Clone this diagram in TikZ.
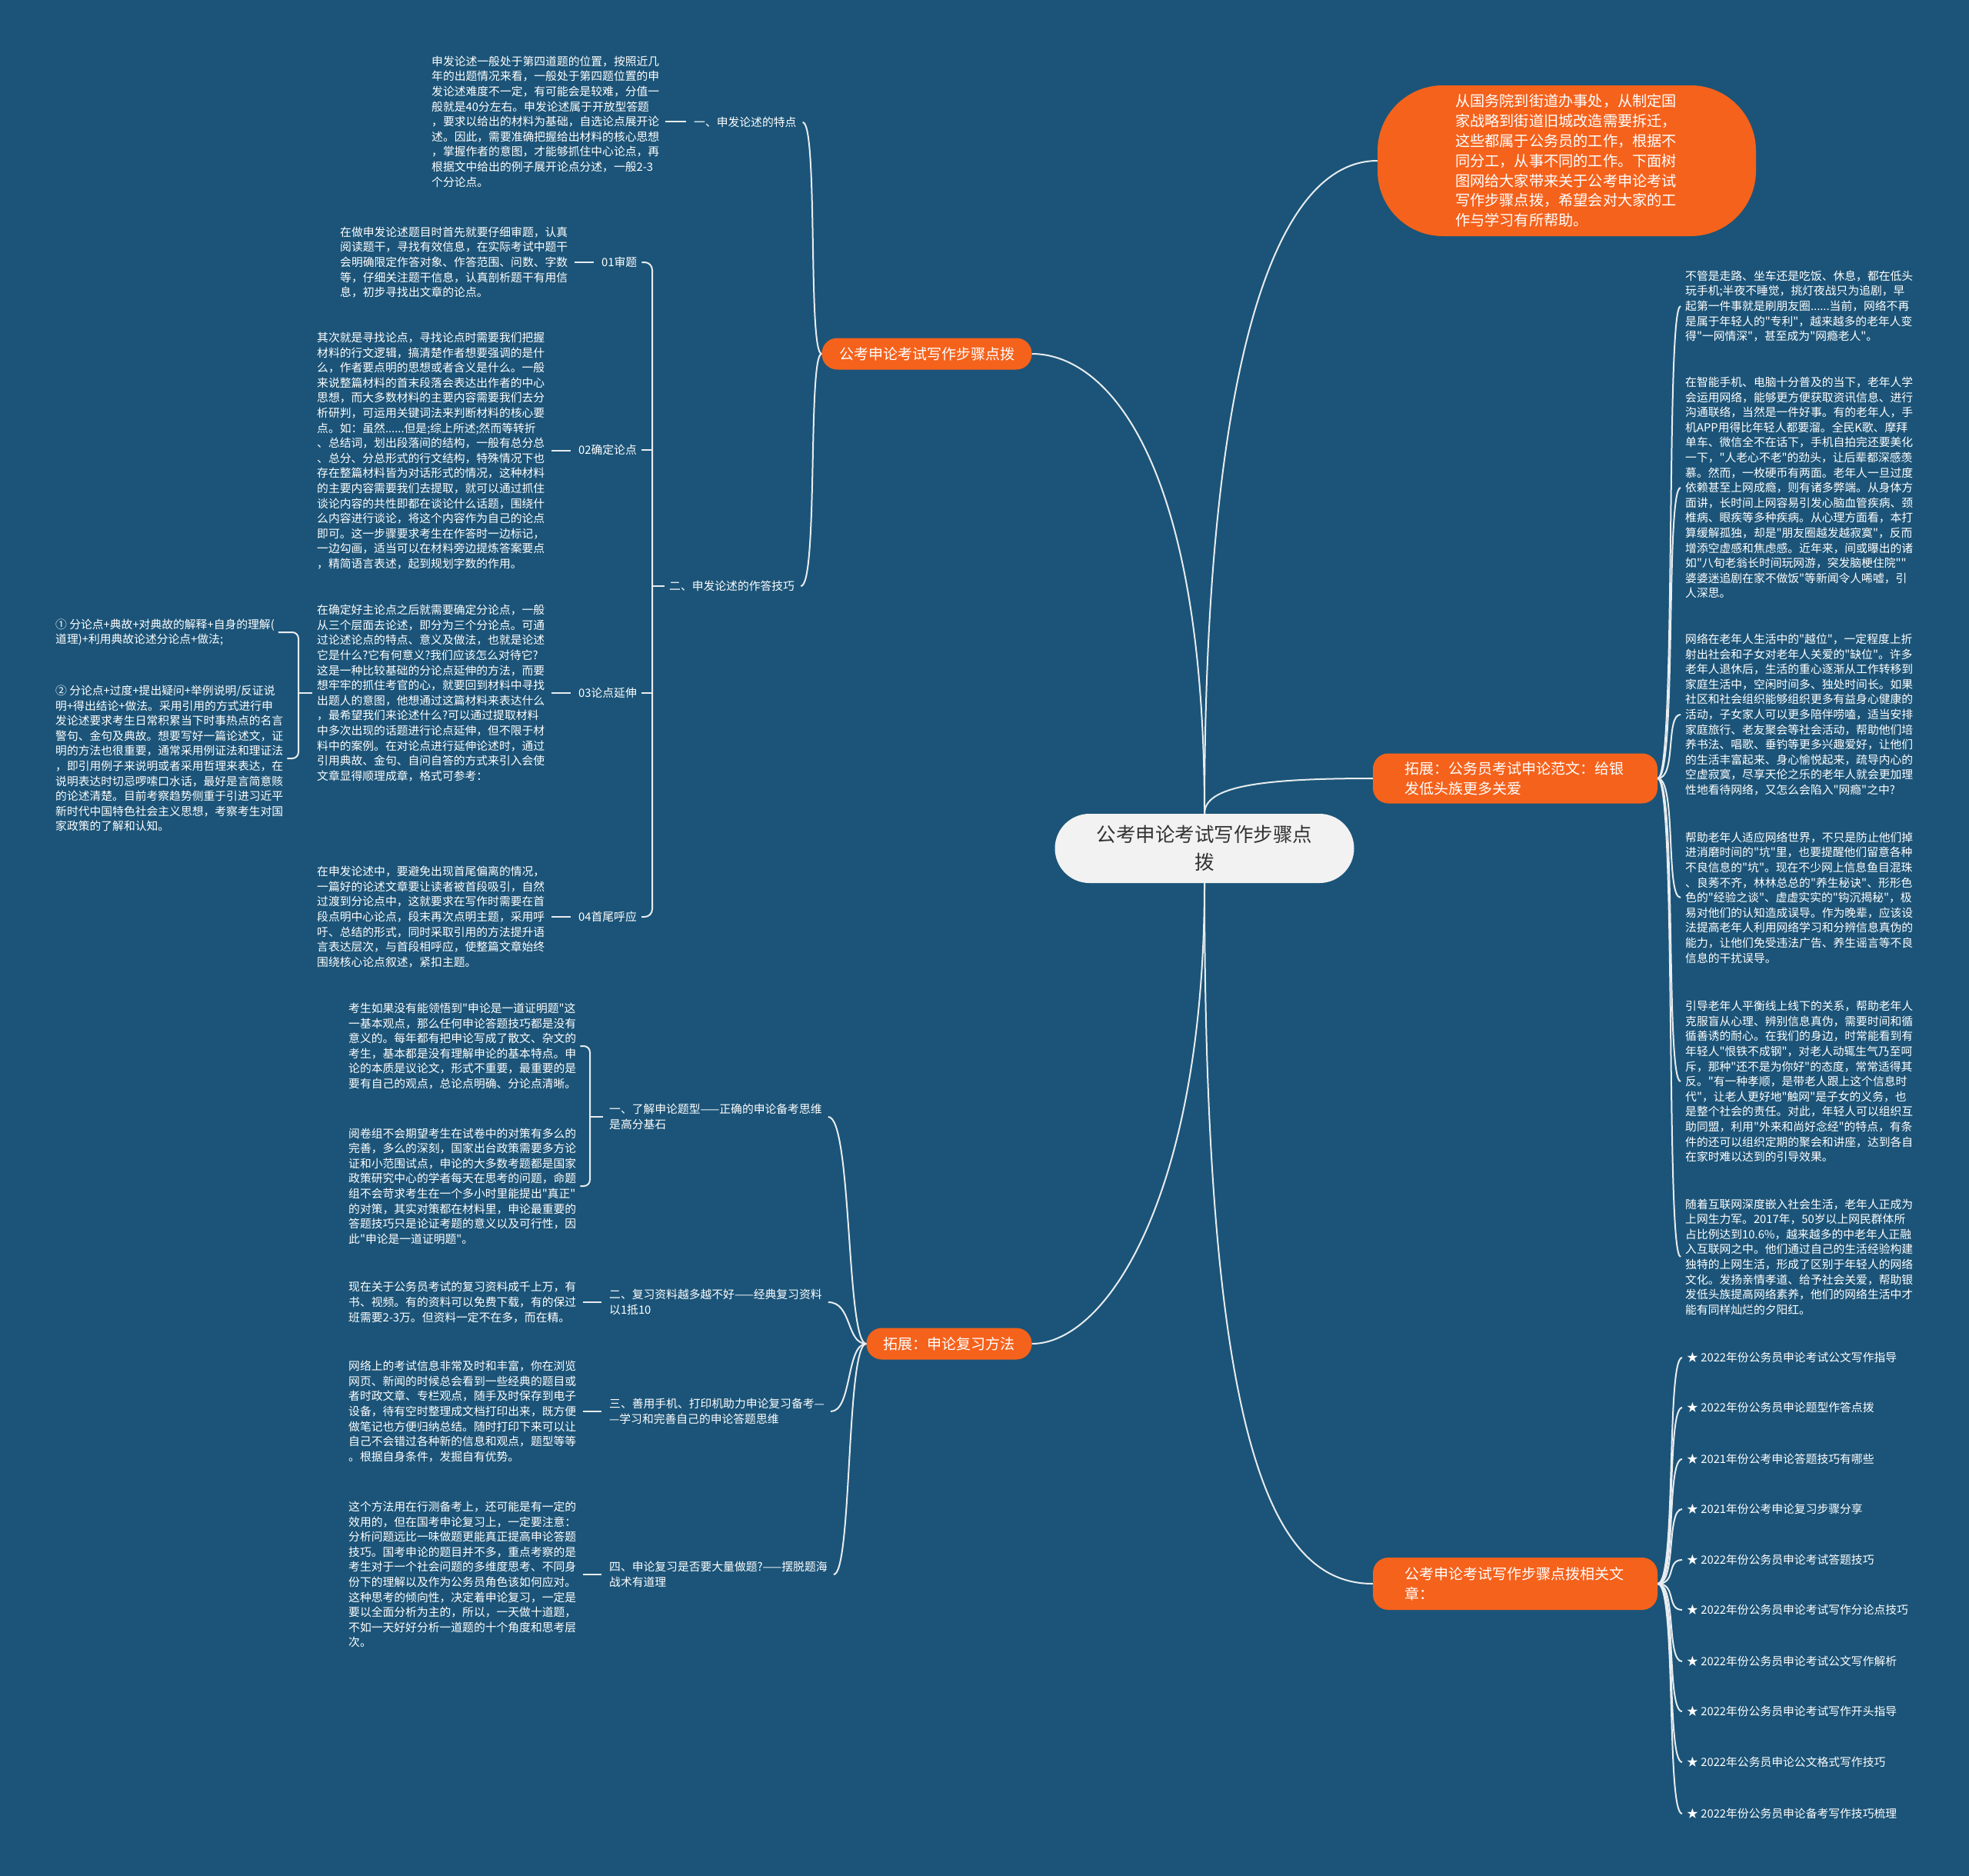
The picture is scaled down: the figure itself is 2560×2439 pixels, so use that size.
\documentclass[tikz,border=0pt]{standalone}
\usepackage{fontspec}
\setmainfont{Noto Sans CJK SC}[Ligatures=TeXOff]
\definecolor{bgc}{RGB}{27,84,120}
\definecolor{org}{RGB}{245,98,28}
\definecolor{cfill}{RGB}{242,242,242}
\definecolor{ctext}{RGB}{51,51,51}
\definecolor{linec}{RGB}{232,236,240}
\begin{document}
\begin{tikzpicture}[x=1pt,y=-1pt,
  txt/.style={font=\fontsize{14.8pt}{19.6pt}\selectfont, text=white, align=left, inner sep=0pt, anchor=west},
  conn/.style={draw=linec, line width=2pt},
  obox/.style={fill=org, text=white, font=\fontsize{19pt}{26pt}\selectfont, inner ysep=0pt}]
\fill[bgc] (0,0) rectangle (2560,2439);
\useasboundingbox (0,0) rectangle (2560,2439);

% ---------- main nodes ----------
\node[fill=cfill, text=ctext, rounded corners=45pt, minimum width=389pt, minimum height=90pt,
  align=center, font=\fontsize{25.5pt}{36pt}\selectfont] (c) at (1566,1103) {公考申论考试写作步骤点\\拨};
\node[obox, rounded corners=20pt, minimum width=273pt, minimum height=41pt, align=center] (n1) at (1205,460) {公考申论考试写作步骤点拨};
\node[obox, rounded corners=20pt, minimum width=215pt, minimum height=41pt, align=center] (n2) at (1234,1747) {拓展：申论复习方法};
\node[obox, rounded corners=85pt, text width=290pt, align=left, minimum width=492pt, minimum height=196pt,
  font=\fontsize{19.2pt}{25.8pt}\selectfont] (n3) at (2037,209)
  {从国务院到街道办事处，从制定国\\家战略到街道旧城改造需要拆迁，\\这些都属于公务员的工作，根据不\\同分工，从事不同的工作。下面树\\图网给大家带来关于公考申论考试\\写作步骤点拨，希望会对大家的工\\作与学习有所帮助。};
\node[obox, rounded corners=20pt, text width=288pt, align=left, minimum width=370pt, minimum height=65pt] (n4) at (1970,1012)
  {拓展：公务员考试申论范文：给银\\发低头族更多关爱};
\node[obox, rounded corners=20pt, text width=288pt, align=left, minimum width=370pt, minimum height=68pt] (n5) at (1970,2059)
  {公考申论考试写作步骤点拨相关文\\章：};

% ---------- upper left ----------
\node[txt] (p1) at (561,158) {申发论述一般处于第四道题的位置，按照近几\\年的出题情况来看，一般处于第四题位置的申\\发论述难度不一定，有可能会是较难，分值一\\般就是40分左右。申发论述属于开放型答题\\，要求以给出的材料为基础，自选论点展开论\\述。因此，需要准确把握给出材料的核心思想\\，掌握作者的意图，才能够抓住中心论点，再\\根据文中给出的例子展开论点分述，一般2-3\\个分论点。};
\node[txt] (l1) at (902,159) {一、申发论述的特点};
\node[txt] (l2) at (870,762) {二、申发论述的作答技巧};

\node[txt] (p2) at (442,341) {在做申发论述题目时首先就要仔细审题，认真\\阅读题干，寻找有效信息，在实际考试中题干\\会明确限定作答对象、作答范围、问数、字数\\等，仔细关注题干信息，认真剖析题干有用信\\息，初步寻找出文章的论点。};
\node[txt] (l01) at (782,341) {01审题};

\node[txt] (p3) at (412,586) {其次就是寻找论点，寻找论点时需要我们把握\\材料的行文逻辑，搞清楚作者想要强调的是什\\么，作者要点明的思想或者含义是什么。一般\\来说整篇材料的首末段落会表达出作者的中心\\思想，而大多数材料的主要内容需要我们去分\\析研判，可运用关键词法来判断材料的核心要\\点。如：虽然......但是;综上所述;然而等转折\\、总结词，划出段落间的结构，一般有总分总\\、总分、分总形式的行文结构，特殊情况下也\\存在整篇材料皆为对话形式的情况，这种材料\\的主要内容需要我们去提取，就可以通过抓住\\谈论内容的共性即都在谈论什么话题，围绕什\\么内容进行谈论，将这个内容作为自己的论点\\即可。这一步骤要求考生在作答时一边标记，\\一边勾画，适当可以在材料旁边提炼答案要点\\，精简语言表述，起到规划字数的作用。};
\node[txt] (l02) at (752,585) {02确定论点};

\node[txt] (p4) at (412,901) {在确定好主论点之后就需要确定分论点，一般\\从三个层面去论述，即分为三个分论点。可通\\过论述论点的特点、意义及做法，也就是论述\\它是什么?它有何意义?我们应该怎么对待它?\\这是一种比较基础的分论点延伸的方法，而要\\想牢牢的抓住考官的心，就要回到材料中寻找\\出题人的意图，他想通过这篇材料来表达什么\\，最希望我们来论述什么?可以通过提取材料\\中多次出现的话题进行论点延伸，但不限于材\\料中的案例。在对论点进行延伸论述时，通过\\引用典故、金句、自问自答的方式来引入会使\\文章显得顺理成章，格式可参考：};
\node[txt] (l03) at (752,901) {03论点延伸};

\node[txt] (p5) at (412,1192) {在申发论述中，要避免出现首尾偏离的情况，\\一篇好的论述文章要让读者被首段吸引，自然\\过渡到分论点中，这就要求在写作时需要在首\\段点明中心论点，段末再次点明主题，采用呼\\吁、总结的形式，同时采取引用的方法提升语\\言表达层次，与首段相呼应，使整篇文章始终\\围绕核心论点叙述，紧扣主题。};
\node[txt] (l04) at (752,1192) {04首尾呼应};

\node[txt] (i1) at (72,822) {① 分论点+典故+对典故的解释+自身的理解(\\道理)+利用典故论述分论点+做法;};
\node[txt] (i2) at (72,986) {② 分论点+过度+提出疑问+举例说明/反证说\\明+得出结论+做法。采用引用的方式进行申\\发论述要求考生日常积累当下时事热点的名言\\警句、金句及典故。想要写好一篇论述文，证\\明的方法也很重要，通常采用例证法和理证法\\，即引用例子来说明或者采用哲理来表达，在\\说明表达时切忌啰嗦口水话，最好是言简意赅\\的论述清楚。目前考察趋势侧重于引进习近平\\新时代中国特色社会主义思想，考察考生对国\\家政策的了解和认知。};

% ---------- lower left ----------
\node[txt] (pa) at (453,1360) {考生如果没有能领悟到"申论是一道证明题"这\\一基本观点，那么任何申论答题技巧都是没有\\意义的。每年都有把申论写成了散文、杂文的\\考生，基本都是没有理解申论的基本特点。申\\论的本质是议论文，形式不重要，最重要的是\\要有自己的观点，总论点明确、分论点清晰。};
\node[txt] (pb) at (453,1542) {阅卷组不会期望考生在试卷中的对策有多么的\\完善，多么的深刻，国家出台政策需要多方论\\证和小范围试点，申论的大多数考题都是国家\\政策研究中心的学者每天在思考的问题，命题\\组不会苛求考生在一个多小时里能提出"真正"\\的对策，其实对策都在材料里，申论最重要的\\答题技巧只是论证考题的意义以及可行性，因\\此"申论是一道证明题"。};
\node[txt] (la) at (792,1452) {一、了解申论题型——正确的申论备考思维\\是高分基石};
\node[txt] (pc) at (453,1693) {现在关于公务员考试的复习资料成千上万，有\\书、视频。有的资料可以免费下载，有的保过\\班需要2-3万。但资料一定不在多，而在精。};
\node[txt] (lb) at (792,1693) {二、复习资料越多越不好——经典复习资料\\以1抵10};
\node[txt] (pd) at (453,1835) {网络上的考试信息非常及时和丰富，你在浏览\\网页、新闻的时候总会看到一些经典的题目或\\者时政文章、专栏观点，随手及时保存到电子\\设备，待有空时整理成文档打印出来，既方便\\做笔记也方便归纳总结。随时打印下来可以让\\自己不会错过各种新的信息和观点，题型等等\\。根据自身条件，发掘自有优势。};
\node[txt] (lc) at (792,1835) {三、善用手机、打印机助力申论复习备考—\\—学习和完善自己的申论答题思维};
\node[txt] (pe) at (453,2047) {这个方法用在行测备考上，还可能是有一定的\\效用的，但在国考申论复习上，一定要注意：\\分析问题远比一味做题更能真正提高申论答题\\技巧。国考申论的题目并不多，重点考察的是\\考生对于一个社会问题的多维度思考、不同身\\份下的理解以及作为公务员角色该如何应对。\\这种思考的倾向性，决定着申论复习，一定是\\要以全面分析为主的，所以，一天做十道题，\\不如一天好好分析一道题的十个角度和思考层\\次。};
\node[txt] (ld) at (792,2047) {四、申论复习是否要大量做题?——摆脱题海\\战术有道理};

% ---------- right ----------
\node[txt] (r1) at (2191,398) {不管是走路、坐车还是吃饭、休息，都在低头\\玩手机;半夜不睡觉，挑灯夜战只为追剧，早\\起第一件事就是刷朋友圈......当前，网络不再\\是属于年轻人的"专利"，越来越多的老年人变\\得"一网情深"，甚至成为"网瘾老人"。};
\node[txt] (r2) at (2191,634) {在智能手机、电脑十分普及的当下，老年人学\\会运用网络，能够更方便获取资讯信息、进行\\沟通联络，当然是一件好事。有的老年人，手\\机APP用得比年轻人都要溜。全民K歌、摩拜\\单车、微信全不在话下，手机自拍完还要美化\\一下，"人老心不老"的劲头，让后辈都深感羡\\慕。然而，一枚硬币有两面。老年人一旦过度\\依赖甚至上网成瘾，则有诸多弊端。从身体方\\面讲，长时间上网容易引发心脑血管疾病、颈\\椎病、眼疾等多种疾病。从心理方面看，本打\\算缓解孤独，却是"朋友圈越发越寂寞"，反而\\增添空虚感和焦虑感。近年来，间或曝出的诸\\如"八旬老翁长时间玩网游，突发脑梗住院""\\婆婆迷追剧在家不做饭"等新闻令人唏嘘，引\\人深思。};
\node[txt] (r3) at (2191,929) {网络在老年人生活中的"越位"，一定程度上折\\射出社会和子女对老年人关爱的"缺位"。许多\\老年人退休后，生活的重心逐渐从工作转移到\\家庭生活中，空闲时间多、独处时间长。如果\\社区和社会组织能够组织更多有益身心健康的\\活动，子女家人可以更多陪伴唠嗑，适当安排\\家庭旅行、老友聚会等社会活动，帮助他们培\\养书法、唱歌、垂钓等更多兴趣爱好，让他们\\的生活丰富起来、身心愉悦起来，疏导内心的\\空虚寂寞，尽享天伦之乐的老年人就会更加理\\性地看待网络，又怎么会陷入"网瘾"之中?};
\node[txt] (r4) at (2191,1167) {帮助老年人适应网络世界，不只是防止他们掉\\进消磨时间的"坑"里，也要提醒他们留意各种\\不良信息的"坑"。现在不少网上信息鱼目混珠\\、良莠不齐，林林总总的"养生秘诀"、形形色\\色的"经验之谈"、虚虚实实的"钩沉揭秘"，极\\易对他们的认知造成误导。作为晚辈，应该设\\法提高老年人利用网络学习和分辨信息真伪的\\能力，让他们免受违法广告、养生谣言等不良\\信息的干扰误导。};
\node[txt] (r5) at (2191,1406) {引导老年人平衡线上线下的关系，帮助老年人\\克服盲从心理、辨别信息真伪，需要时间和循\\循善诱的耐心。在我们的身边，时常能看到有\\年轻人"恨铁不成钢"，对老人动辄生气乃至呵\\斥，那种"还不是为你好"的态度，常常适得其\\反。"有一种孝顺，是带老人跟上这个信息时\\代"，让老人更好地"触网"是子女的义务，也\\是整个社会的责任。对此，年轻人可以组织互\\助同盟，利用"外来和尚好念经"的特点，有条\\件的还可以组织定期的聚会和讲座，达到各自\\在家时难以达到的引导效果。};
\node[txt] (r6) at (2191,1634) {随着互联网深度嵌入社会生活，老年人正成为\\上网生力军。2017年，50岁以上网民群体所\\占比例达到10.6\%，越来越多的中老年人正融\\入互联网之中。他们通过自己的生活经验构建\\独特的上网生活，形成了区别于年轻人的网络\\文化。发扬亲情孝道、给予社会关爱，帮助银\\发低头族提高网络素养，他们的网络生活中才\\能有同样灿烂的夕阳红。};

\node[txt] (s1) at (2193,1765) {★ 2022年份公务员申论考试公文写作指导};
\node[txt] (s2) at (2193,1830) {★ 2022年份公务员申论题型作答点拨};
\node[txt] (s3) at (2193,1897) {★ 2021年份公考申论答题技巧有哪些};
\node[txt] (s4) at (2193,1962) {★ 2021年份公考申论复习步骤分享};
\node[txt] (s5) at (2193,2028) {★ 2022年份公务员申论考试答题技巧};
\node[txt] (s6) at (2193,2093) {★ 2022年份公务员申论考试写作分论点技巧};
\node[txt] (s7) at (2193,2160) {★ 2022年份公务员申论考试公文写作解析};
\node[txt] (s8) at (2193,2225) {★ 2022年份公务员申论考试写作开头指导};
\node[txt] (s9) at (2193,2291) {★ 2022年公务员申论公文格式写作技巧};
\node[txt] (s10) at (2193,2358) {★ 2022年份公务员申论备考写作技巧梳理};

% ---------- connectors ----------
\draw[conn] (c.north) .. controls (1566,600) and (1440,460) .. (n1.east);
\draw[conn] (c.north) .. controls (1566,500) and (1650,209) .. (n3.west);
\draw[conn] (c.north) .. controls (1566,1022) and (1640,1012) .. (n4.west);
\draw[conn] (c.south) .. controls (1566,1550) and (1440,1747) .. (n2.east);
\draw[conn] (c.south) .. controls (1566,1900) and (1660,2059) .. (n5.west);

\draw[conn] (n1.west) .. controls (1050,460) and (1064,159) .. ([xshift=8pt]l1.east);
\draw[conn] (n1.west) .. controls (1050,460) and (1064,762) .. ([xshift=8pt]l2.east);
\draw[conn] ([xshift=8pt]p1.east) -- ([xshift=-10pt]p1.east -| l1.west);

\coordinate (sp) at (848,762);
\draw[conn, rounded corners=10pt] ([xshift=6pt]l01.east) -| (sp) |- ([xshift=6pt]l04.east);
\draw[conn] ([xshift=6pt]l02.east) -- (l02.east -| sp);
\draw[conn] ([xshift=6pt]l03.east) -- (l03.east -| sp);
\draw[conn] (sp) -- ([xshift=-6pt]l2.west);
\draw[conn] ([xshift=9pt]p2.east) -- ([xshift=-10pt]p2.east -| l01.west);
\draw[conn] ([xshift=9pt]p3.east) -- ([xshift=-10pt]p3.east -| l02.west);
\draw[conn] ([xshift=9pt]p4.east) -- ([xshift=-10pt]p4.east -| l03.west);
\draw[conn] ([xshift=9pt]p5.east) -- ([xshift=-10pt]p5.east -| l04.west);

\coordinate (sq) at (388,901);
\draw[conn, rounded corners=8pt] ([xshift=5pt]i1.east) -| (sq) |- ([xshift=5pt]i2.east);
\draw[conn] (sq) -- ([xshift=-6pt]p4.west);

\coordinate (sr) at (767,1452);
\draw[conn, rounded corners=8pt] ([xshift=5pt]pa.east) -| (sr) |- ([xshift=5pt]pb.east);
\draw[conn] (sr) -- ([xshift=-8pt]la.west);
\draw[conn] ([xshift=9pt]pc.east) -- ([xshift=-10pt]pc.east -| lb.west);
\draw[conn] ([xshift=9pt]pd.east) -- ([xshift=-10pt]pd.east -| lc.west);
\draw[conn] ([xshift=9pt]pe.east) -- ([xshift=-10pt]pe.east -| ld.west);

\foreach \t in {la,lb,lc,ld}
  \draw[conn] (n2.west) .. controls (1100,1747) and (1108,0 |- \t.east) .. ([xshift=8pt]\t.east);

\foreach \t in {r1,r2,r3,r4,r5,r6}
  \draw[conn] (n4.east) .. controls (2180,1012) and (2165,0 |- \t.west) .. ([xshift=-6pt]\t.west);

\foreach \t in {s1,s2,s3,s4,s5,s6,s7,s8,s9,s10}
  \draw[conn] (n5.east) .. controls (2180,2059) and (2166,0 |- \t.west) .. ([xshift=-6pt]\t.west);
\end{tikzpicture}
\end{document}
